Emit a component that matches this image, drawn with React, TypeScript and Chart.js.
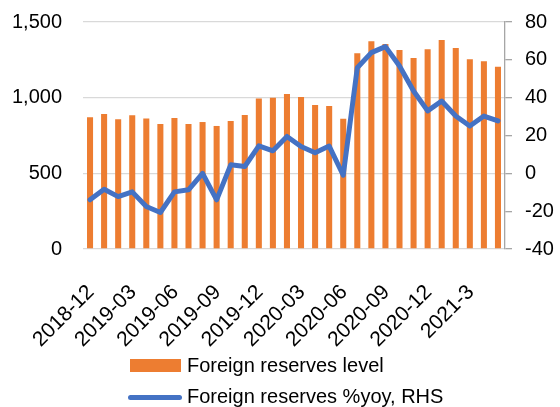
import React, { useEffect, useLayoutEffect, useRef } from "react";
import { Chart, registerables } from "chart.js";

Chart.register(...registerables);

const categories = [
  "2018-12", "2019-01", "2019-02", "2019-03", "2019-04", "2019-05", "2019-06", "2019-07",
  "2019-08", "2019-09", "2019-10", "2019-11", "2019-12", "2020-01", "2020-02", "2020-03",
  "2020-04", "2020-05", "2020-06", "2020-07", "2020-08", "2020-09", "2020-10", "2020-11",
  "2020-12", "2021-1", "2021-2", "2021-3", "2021-4", "2021-5",
];

const reservesLevel = [
  870, 892, 857, 884, 862, 826, 866, 826, 839, 813, 846, 886, 994, 1000, 1025, 1005,
  952, 945, 861, 1293, 1373, 1355, 1315, 1262, 1320, 1381, 1328, 1254, 1241, 1205,
];

const reservesYoy = [
  -14, -8.4, -12.3, -9.8, -17.5, -20.7, -9.8, -8.7, 0, -14, 4.5, 3.6, 14.5, 11.9, 19.5, 14.2,
  10.9, 14.4, -1, 55.8, 63.8, 67, 56.7, 43.5, 33, 38.2, 30.3, 25, 30.3, 27.7,
];

const levelLabel = "Foreign reserves level";
const yoyLabel = "Foreign reserves %yoy, RHS";

const FONT = "'Liberation Sans', Arial, sans-serif";

export default function App() {
  const ref = useRef<HTMLCanvasElement | null>(null);

  useLayoutEffect(() => {
    document.body.style.margin = "0";
    document.body.style.overflow = "hidden";
  }, []);

  useEffect(() => {
    if (!ref.current) return;
    const chart = new Chart(ref.current, {
      type: "bar",
      data: {
        labels: categories,
        datasets: [
          {
            type: "line",
            label: yoyLabel,
            data: reservesYoy,
            yAxisID: "y1",
            borderColor: "#4472C4",
            backgroundColor: "#4472C4",
            borderWidth: 5,
            pointRadius: 0,
            tension: 0,
            borderJoinStyle: "round",
            borderCapStyle: "round",
            order: 1,
          } as any,
          {
            type: "bar",
            label: levelLabel,
            data: reservesLevel,
            yAxisID: "y",
            backgroundColor: "#ED7D31",
            barPercentage: 0.43,
            categoryPercentage: 1,
            order: 2,
          },
        ],
      },
      options: {
        responsive: false,
        animation: false,
        layout: { padding: { top: 22, left: 0, right: 0, bottom: 0 } },
        plugins: { legend: { display: false }, tooltip: { enabled: false } },
        scales: {
          x: {
            grid: { display: false },
            border: { display: false },
            ticks: {
              autoSkip: false,
              maxRotation: 45,
              minRotation: 45,
              padding: 23,
              labelOffset: 1,
              color: "#000",
              font: { family: FONT, size: 21 },
              callback: (_v: any, i: number) => (i % 3 === 0 ? categories[i] : ""),
            },
            afterFit: (s: any) => {
              s.height = 158;
            },
          },
          y: {
            position: "left",
            min: 0,
            max: 1500,
            grid: { color: "#d9d9d9", lineWidth: 1.3, drawTicks: false },
            border: { display: false },
            ticks: {
              stepSize: 500,
              padding: 21,
              color: "#000",
              font: { family: FONT, size: 20 },
              callback: (v: any) => Number(v).toLocaleString("en-US"),
            },
            afterFit: (s: any) => {
              s.width = 83;
              s.paddingTop = 0;
              s.paddingBottom = 0;
            },
          },
          y1: {
            position: "right",
            min: -40,
            max: 80,
            grid: {
              drawOnChartArea: false,
              drawTicks: true,
              tickLength: 7,
              color: "#a6a6a6",
              lineWidth: 1.3,
            },
            border: { display: true, color: "#a6a6a6", width: 1.3 },
            ticks: {
              stepSize: 20,
              padding: 13,
              color: "#000",
              font: { family: FONT, size: 20 },
            },
            afterFit: (s: any) => {
              s.width = 55;
              s.paddingTop = 0;
              s.paddingBottom = 0;
            },
          },
        },
      },
    });
    return () => chart.destroy();
  }, []);

  const textStyle: React.CSSProperties = {
    position: "absolute",
    left: 187,
    fontFamily: FONT,
    fontSize: 20,
    color: "#000",
    lineHeight: "20px",
    whiteSpace: "nowrap",
  };

  return (
    <div style={{ position: "relative", width: 560, height: 407, overflow: "hidden" }}>
      <canvas ref={ref} width={560} height={407} style={{ display: "block" }} />
      <div style={{ position: "absolute", left: 130, top: 359, width: 51, height: 13, background: "#ED7D31" }} />
      <div style={{ ...textStyle, top: 355 }}>{levelLabel}</div>
      <div style={{ position: "absolute", left: 128, top: 395, width: 54, height: 5, borderRadius: 3, background: "#4472C4" }} />
      <div style={{ ...textStyle, top: 386 }}>{yoyLabel}</div>
    </div>
  );
}
